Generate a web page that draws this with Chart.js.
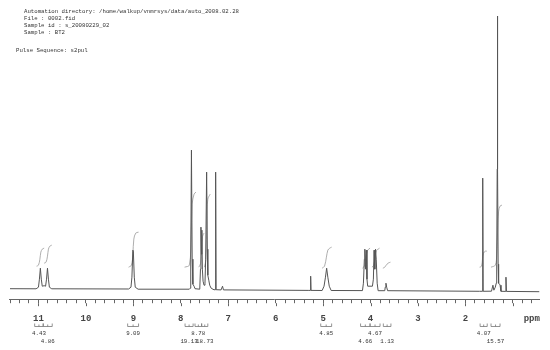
<!DOCTYPE html>
<html lang="en">
<head>
  <meta charset="UTF-8" />
  <title>1H NMR spectrum</title>
  <style>
    body {
      margin: 0;
      background: #ffffff;
    }

    .wrap {
      position: relative;
      width: 550px;
      height: 350px;
    }

    .header {
      position: absolute;
      font-family: 'Liberation Mono', 'DejaVu Sans Mono', monospace;
      font-size: 5.7px;
      line-height: 7px;
      color: #333;
      white-space: pre;
    }
  </style>
</head>
<body>
  <div class="wrap">
    <canvas id="nmr" width="550" height="350"></canvas>
    <div class="header" style="left:24px; top:8px;">Automation directory: /home/walkup/vnmrsys/data/auto_2008.02.28
File : 0002.fid
Sample id : s_20080229_02
Sample : BT2</div>
    <div class="header" style="left:16px; top:47px;">Pulse Sequence: s2pul</div>
  </div>

  <script src="https://cdn.jsdelivr.net/npm/chart.js"></script>
  <script>
    // spectrum trace (ppm, intensity above baseline)
    const shiftPpm = [
      11.60, 11.05, 11.00, 10.98, 10.96, 10.94, 10.92, 10.88, 10.85, 10.83, 10.81, 10.79, 10.77, 10.72,
      9.10, 9.05, 9.03, 9.01, 9.00, 8.98, 8.96, 8.90,
      7.82, 7.80, 7.79, 7.775, 7.76, 7.745, 7.72, 7.70,
      7.60, 7.585, 7.575, 7.565, 7.555, 7.545, 7.53, 7.51, 7.49, 7.475, 7.455, 7.44, 7.43, 7.41, 7.39, 7.36,
      7.30, 7.275, 7.265, 7.255, 7.15, 7.12, 7.10,
      5.30, 5.27, 5.262, 5.254,
      5.02, 4.98, 4.95, 4.925, 4.90, 4.87, 4.83,
      4.17, 4.15, 4.13, 4.12, 4.105, 4.09, 4.075, 4.06,
      3.96, 3.94, 3.925, 3.91, 3.895, 3.88, 3.86, 3.84,
      3.70, 3.69, 3.675, 3.66, 3.64,
      1.70, 1.645, 1.635, 1.625,
      1.45, 1.42, 1.40, 1.37, 1.35, 1.34, 1.33, 1.325, 1.32, 1.31, 1.30, 1.28, 1.27, 1.25,
      1.16, 1.145, 1.135, 0.44
    ];
    const intensity = [
      0.5, 0.4, 2, 10, 21, 10, 3, 3.5, 3, 10, 21, 10, 2, 0.4,
      0.2, 2, 12, 39, 38, 12, 2, 0,
      0, 1, 30, 139, 30, 5, 3, 0.5,
      0, 20, 62, 35, 59, 20, 8, 4, 6, 30, 117, 40, 14, 9, 4, 1,
      -0.6, -0.5, 117, -0.5, -0.7, 3, -0.7,
      -1.2, -1.2, 13, -1.2,
      -1.3, 3, 12, 21, 12, 3, -1.3,
      -1.4, 6, 30, 40, 20, 39, 10, 3,
      3, 10, 39, 20, 40, 30, 6, -1.5,
      -1.5, 2, 6, 2, -1.5,
      -2.1, -2.1, 111, -2.1,
      -2.0, 4, -1.0, 2, 6, 25, 120, 273, 120, 25, 6, 5, 4, -2.1,
      -2.2, 12, -2.2, -2.5
    ];

    // integral traces, one list of [ppm, level] per region
    const integralCurves = [
      [[11.04, 23], [11.00, 24], [10.97, 30], [10.95, 37], [10.92, 40], [10.88, 41]],
      [[10.88, 26], [10.84, 27], [10.81, 33], [10.79, 40], [10.76, 43], [10.72, 44]],
      [[9.10, 22], [9.04, 24], [9.01, 35], [8.99, 50], [8.95, 56], [8.89, 57]],
      [[7.92, 22], [7.82, 24], [7.78, 55], [7.76, 85], [7.72, 95], [7.68, 97]],
      [[7.62, 22], [7.58, 26], [7.56, 40], [7.54, 53], [7.51, 56]],
      [[7.50, 22], [7.47, 30], [7.45, 70], [7.43, 90], [7.38, 95]],
      [[5.02, 21], [4.97, 23], [4.93, 32], [4.90, 39], [4.86, 41], [4.82, 42]],
      [[4.17, 21], [4.13, 23], [4.10, 32], [4.07, 38], [4.04, 40], [4.01, 41]],
      [[3.97, 22], [3.93, 24], [3.90, 33], [3.87, 39], [3.84, 40], [3.81, 41]],
      [[3.74, 21], [3.70, 22], [3.67, 24], [3.63, 26], [3.58, 27]],
      [[1.70, 22], [1.66, 23], [1.64, 30], [1.62, 36], [1.58, 38], [1.55, 38]],
      [[1.46, 22], [1.37, 24], [1.34, 35], [1.32, 60], [1.30, 78], [1.27, 83], [1.23, 84]]
    ];

    // integral values printed under the axis
    const integralLabels = ['4.43', '4.86', '9.09', '19.13', '8.78', '18.73', '4.85', '4.66', '4.67', '1.13', '4.07', '15.57'];
    const integralFrom = [11.08, 10.90, 9.12, 7.91, 7.70, 7.56, 5.05, 4.21, 4.01, 3.73, 1.69, 1.46];
    const integralTo = [10.90, 10.71, 8.89, 7.74, 7.56, 7.43, 4.82, 4.01, 3.80, 3.57, 1.54, 1.27];
    const integralRow = [0, 1, 0, 1, 0, 1, 0, 1, 0, 1, 0, 1];

    // labelled whole-ppm ticks (1 is covered by the unit label)
    const tickLabels = [11, 10, 9, 8, 7, 6, 5, 4, 3, 2];
    const unitLabel = 'ppm';
    const unitAt = 0.6;

    const spectrum = shiftPpm.map((p, i) => ({ x: p, y: intensity[i] }));

    const datasets = [{
      data: spectrum,
      borderColor: '#555',
      borderWidth: 1,
      pointRadius: 0,
      tension: 0
    }];
    integralCurves.forEach((c) => {
      datasets.push({
        data: c.map((pt) => ({ x: pt[0], y: pt[1] })),
        borderColor: '#999',
        borderWidth: 0.8,
        pointRadius: 0,
        tension: 0.35
      });
    });

    // brackets + integral numbers below the axis, and longer ticks at whole ppm
    const extras = {
      id: 'extras',
      afterDraw(chart) {
        const c = chart.ctx;
        const xs = chart.scales.x;
        c.save();
        c.strokeStyle = '#666';
        c.lineWidth = 1;
        xs.ticks.forEach((t) => {
          if (Math.abs(t.value - Math.round(t.value)) < 1e-6) {
            const px = Math.round(xs.getPixelForValue(t.value)) + 0.5;
            c.beginPath();
            c.moveTo(px, xs.top + 4);
            c.lineTo(px, xs.top + 7);
            c.stroke();
          }
        });

        c.strokeStyle = '#777';
        c.lineWidth = 0.8;
        c.fillStyle = '#333';
        c.font = '5.8px "Liberation Mono", monospace';
        c.textAlign = 'center';
        c.textBaseline = 'middle';
        integralLabels.forEach((lab, i) => {
          const a = xs.getPixelForValue(integralFrom[i]);
          const b = xs.getPixelForValue(integralTo[i]);
          const m = (a + b) / 2;
          c.beginPath();
          c.moveTo(a, 323.5);
          c.lineTo(a, 326.5);
          c.lineTo(b, 326.5);
          c.lineTo(b, 323.5);
          c.moveTo(m, 326.5);
          c.lineTo(m, 324.5);
          c.stroke();
          c.fillText(lab, m, integralRow[i] ? 341 : 333);
        });
        c.restore();
      }
    };

    new Chart(document.getElementById('nmr'), {
      type: 'line',
      data: { datasets },
      options: {
        responsive: false,
        animation: false,
        layout: { padding: { left: 8, right: 7, top: 10, bottom: 16 } },
        plugins: {
          legend: { display: false },
          tooltip: { enabled: false }
        },
        scales: {
          x: {
            type: 'linear',
            reverse: true,
            min: 0.436,
            max: 11.605,
            border: { display: true, color: '#666', width: 1 },
            grid: { drawOnChartArea: false, drawTicks: true, tickLength: 4, color: '#666' },
            ticks: {
              stepSize: 0.2,
              includeBounds: false,
              autoSkip: false,
              maxRotation: 0,
              padding: 10,
              color: '#444',
              font: { family: 'Liberation Mono', size: 9, weight: 'bold' },
              callback: (v) => {
                if (Math.abs(v - unitAt) < 1e-6) return unitLabel;
                const n = Math.round(v);
                return Math.abs(v - n) < 1e-6 && tickLabels.includes(n) ? String(n) : '';
              }
            }
          },
          y: {
            display: false,
            min: -10,
            max: 279
          }
        }
      },
      plugins: [extras]
    });
  </script>
</body>
</html>
